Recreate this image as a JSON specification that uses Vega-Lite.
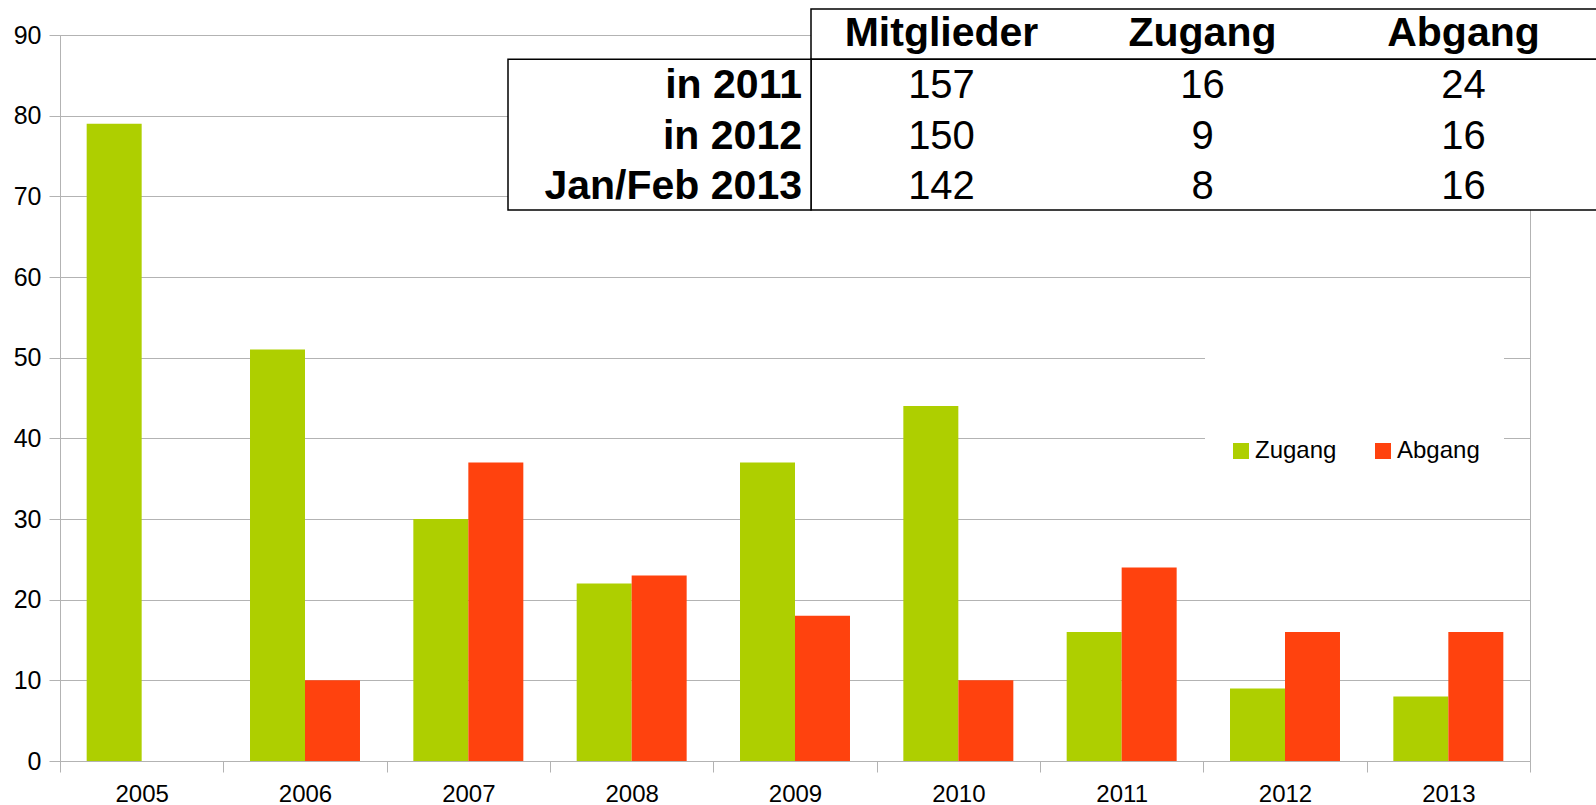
{
  "$schema": "https://vega.github.io/schema/vega-lite/v6.json",
  "width": 1470,
  "height": 726,
  "autosize": {"type": "none"},
  "padding": {"left": 60, "top": 35, "right": 66, "bottom": 44},
  "background": "white",
  "config": {
    "font": "Liberation Sans",
    "view": {"stroke": "#b3b3b3", "strokeWidth": 1}
  },
  "datasets": {
    "bewegung": [
      {"Jahr": "2005", "Art": "Zugang", "Anzahl": 79},
      {"Jahr": "2006", "Art": "Zugang", "Anzahl": 51},
      {"Jahr": "2006", "Art": "Abgang", "Anzahl": 10},
      {"Jahr": "2007", "Art": "Zugang", "Anzahl": 30},
      {"Jahr": "2007", "Art": "Abgang", "Anzahl": 37},
      {"Jahr": "2008", "Art": "Zugang", "Anzahl": 22},
      {"Jahr": "2008", "Art": "Abgang", "Anzahl": 23},
      {"Jahr": "2009", "Art": "Zugang", "Anzahl": 37},
      {"Jahr": "2009", "Art": "Abgang", "Anzahl": 18},
      {"Jahr": "2010", "Art": "Zugang", "Anzahl": 44},
      {"Jahr": "2010", "Art": "Abgang", "Anzahl": 10},
      {"Jahr": "2011", "Art": "Zugang", "Anzahl": 16},
      {"Jahr": "2011", "Art": "Abgang", "Anzahl": 24},
      {"Jahr": "2012", "Art": "Zugang", "Anzahl": 9},
      {"Jahr": "2012", "Art": "Abgang", "Anzahl": 16},
      {"Jahr": "2013", "Art": "Zugang", "Anzahl": 8},
      {"Jahr": "2013", "Art": "Abgang", "Anzahl": 16}
    ],
    "tabelle": [
      {"zeile": "Kopf", "spalte": "Mitglieder", "text": "Mitglieder"},
      {"zeile": "Kopf", "spalte": "Zugang", "text": "Zugang"},
      {"zeile": "Kopf", "spalte": "Abgang", "text": "Abgang"},
      {"zeile": "in 2011", "spalte": "Zeile", "text": "in 2011"},
      {"zeile": "in 2011", "spalte": "Mitglieder", "text": "157"},
      {"zeile": "in 2011", "spalte": "Zugang", "text": "16"},
      {"zeile": "in 2011", "spalte": "Abgang", "text": "24"},
      {"zeile": "in 2012", "spalte": "Zeile", "text": "in 2012"},
      {"zeile": "in 2012", "spalte": "Mitglieder", "text": "150"},
      {"zeile": "in 2012", "spalte": "Zugang", "text": "9"},
      {"zeile": "in 2012", "spalte": "Abgang", "text": "16"},
      {"zeile": "Jan/Feb 2013", "spalte": "Zeile", "text": "Jan/Feb 2013"},
      {"zeile": "Jan/Feb 2013", "spalte": "Mitglieder", "text": "142"},
      {"zeile": "Jan/Feb 2013", "spalte": "Zugang", "text": "8"},
      {"zeile": "Jan/Feb 2013", "spalte": "Abgang", "text": "16"}
    ],
    "rahmen": [
      {"teil": "kopf", "von": "Mitglieder", "bis": "Abgang", "zeile_von": "Kopf", "zeile_bis": "Kopf"},
      {"teil": "beschriftung", "von": "Zeile", "bis": "Zeile", "zeile_von": "in 2011", "zeile_bis": "Jan/Feb 2013"},
      {"teil": "werte", "von": "Mitglieder", "bis": "Abgang", "zeile_von": "in 2011", "zeile_bis": "Jan/Feb 2013"}
    ]
  },
  "layer": [
    {
      "data": {"name": "bewegung"},
      "mark": {"type": "bar"},
      "encoding": {
        "x": {
          "field": "Jahr",
          "type": "nominal",
          "scale": {"paddingInner": 0, "paddingOuter": 0},
          "axis": {
            "title": null,
            "labelAngle": 0,
            "labelFontSize": 24,
            "labelColor": "black",
            "labelPadding": 10,
            "tickBand": "extent",
            "ticks": true,
            "tickSize": 11,
            "tickColor": "#b3b3b3",
            "domainColor": "#b3b3b3",
            "grid": false
          }
        },
        "xOffset": {
          "field": "Art",
          "type": "nominal",
          "scale": {"domain": ["Zugang", "Abgang"], "paddingInner": 0, "paddingOuter": 0.485}
        },
        "y": {
          "field": "Anzahl",
          "type": "quantitative",
          "scale": {"domain": [0, 90], "nice": false},
          "axis": {
            "title": null,
            "values": [0, 10, 20, 30, 40, 50, 60, 70, 80, 90],
            "labelFontSize": 25,
            "labelColor": "black",
            "labelPadding": 8,
            "tickSize": 11,
            "tickColor": "#b3b3b3",
            "domainColor": "#b3b3b3",
            "grid": true,
            "gridColor": "#b3b3b3"
          }
        },
        "color": {
          "field": "Art",
          "type": "nominal",
          "scale": {"domain": ["Zugang", "Abgang"], "range": ["#aecf00", "#ff420e"]},
          "legend": {
            "orient": "none",
            "legendX": 1145,
            "legendY": 310,
            "direction": "horizontal",
            "columns": 2,
            "title": " ",
            "titleFontSize": 40,
            "titlePadding": 30,
            "fillColor": "white",
            "padding": 24,
            "symbolType": "square",
            "symbolSize": 256,
            "symbolStrokeWidth": 0,
            "symbolOpacity": 1,
            "labelFontSize": 24,
            "labelColor": "black",
            "labelOffset": 2,
            "columnPadding": 34
          }
        }
      }
    },
    {
      "layer": [
        {
          "data": {"name": "rahmen"},
          "transform": [{"filter": "datum.teil == 'kopf' || datum.teil == 'werte'"}],
          "mark": {"type": "rect", "fill": "white", "stroke": "black", "strokeWidth": 1.5, "x2Offset": 12},
          "encoding": {
            "x": {"field": "von", "type": "nominal", "bandPosition": 0,
              "scale": {"type": "band", "domain": ["Zeile", "Mitglieder", "Zugang", "Abgang"], "range": [490, 1534], "paddingInner": 0, "paddingOuter": 0},
              "axis": null},
            "x2": {"field": "bis", "bandPosition": 1},
            "y": {"field": "zeile_von", "type": "nominal", "bandPosition": 0,
              "scale": {"type": "band", "domain": ["Kopf", "in 2011", "in 2012", "Jan/Feb 2013"], "range": [-26, 175], "paddingInner": 0, "paddingOuter": 0},
              "axis": null},
            "y2": {"field": "zeile_bis", "bandPosition": 1}
          }
        },
        {
          "data": {"name": "rahmen"},
          "transform": [{"filter": "datum.teil == 'beschriftung'"}],
          "mark": {"type": "rect", "fill": "white", "stroke": "black", "strokeWidth": 1.5, "xOffset": -42},
          "encoding": {
            "x": {"field": "von", "type": "nominal", "bandPosition": 0, "axis": null},
            "x2": {"field": "bis", "bandPosition": 1},
            "y": {"field": "zeile_von", "type": "nominal", "bandPosition": 0, "axis": null},
            "y2": {"field": "zeile_bis", "bandPosition": 1}
          }
        },
        {
          "data": {"name": "tabelle"},
          "transform": [{"filter": "datum.zeile == 'Kopf'"}],
          "mark": {"type": "text", "fontSize": 41, "fontWeight": "bold", "color": "black", "baseline": "middle"},
          "encoding": {
            "x": {"field": "spalte", "type": "nominal", "axis": null},
            "y": {"field": "zeile", "type": "nominal", "axis": null},
            "text": {"field": "text"}
          }
        },
        {
          "data": {"name": "tabelle"},
          "transform": [{"filter": "datum.zeile != 'Kopf' && datum.spalte != 'Zeile'"}],
          "mark": {"type": "text", "fontSize": 40, "color": "black", "baseline": "middle", "dy": 2},
          "encoding": {
            "x": {"field": "spalte", "type": "nominal", "axis": null},
            "y": {"field": "zeile", "type": "nominal", "axis": null},
            "text": {"field": "text"}
          }
        },
        {
          "data": {"name": "tabelle"},
          "transform": [{"filter": "datum.spalte == 'Zeile'"}],
          "mark": {"type": "text", "fontSize": 41, "fontWeight": "bold", "color": "black", "baseline": "middle", "align": "right", "dx": -9, "dy": 2},
          "encoding": {
            "x": {"field": "spalte", "type": "nominal", "bandPosition": 1, "axis": null},
            "y": {"field": "zeile", "type": "nominal", "axis": null},
            "text": {"field": "text"}
          }
        }
      ]
    }
  ],
  "resolve": {"scale": {"x": "independent", "y": "independent"}}
}
